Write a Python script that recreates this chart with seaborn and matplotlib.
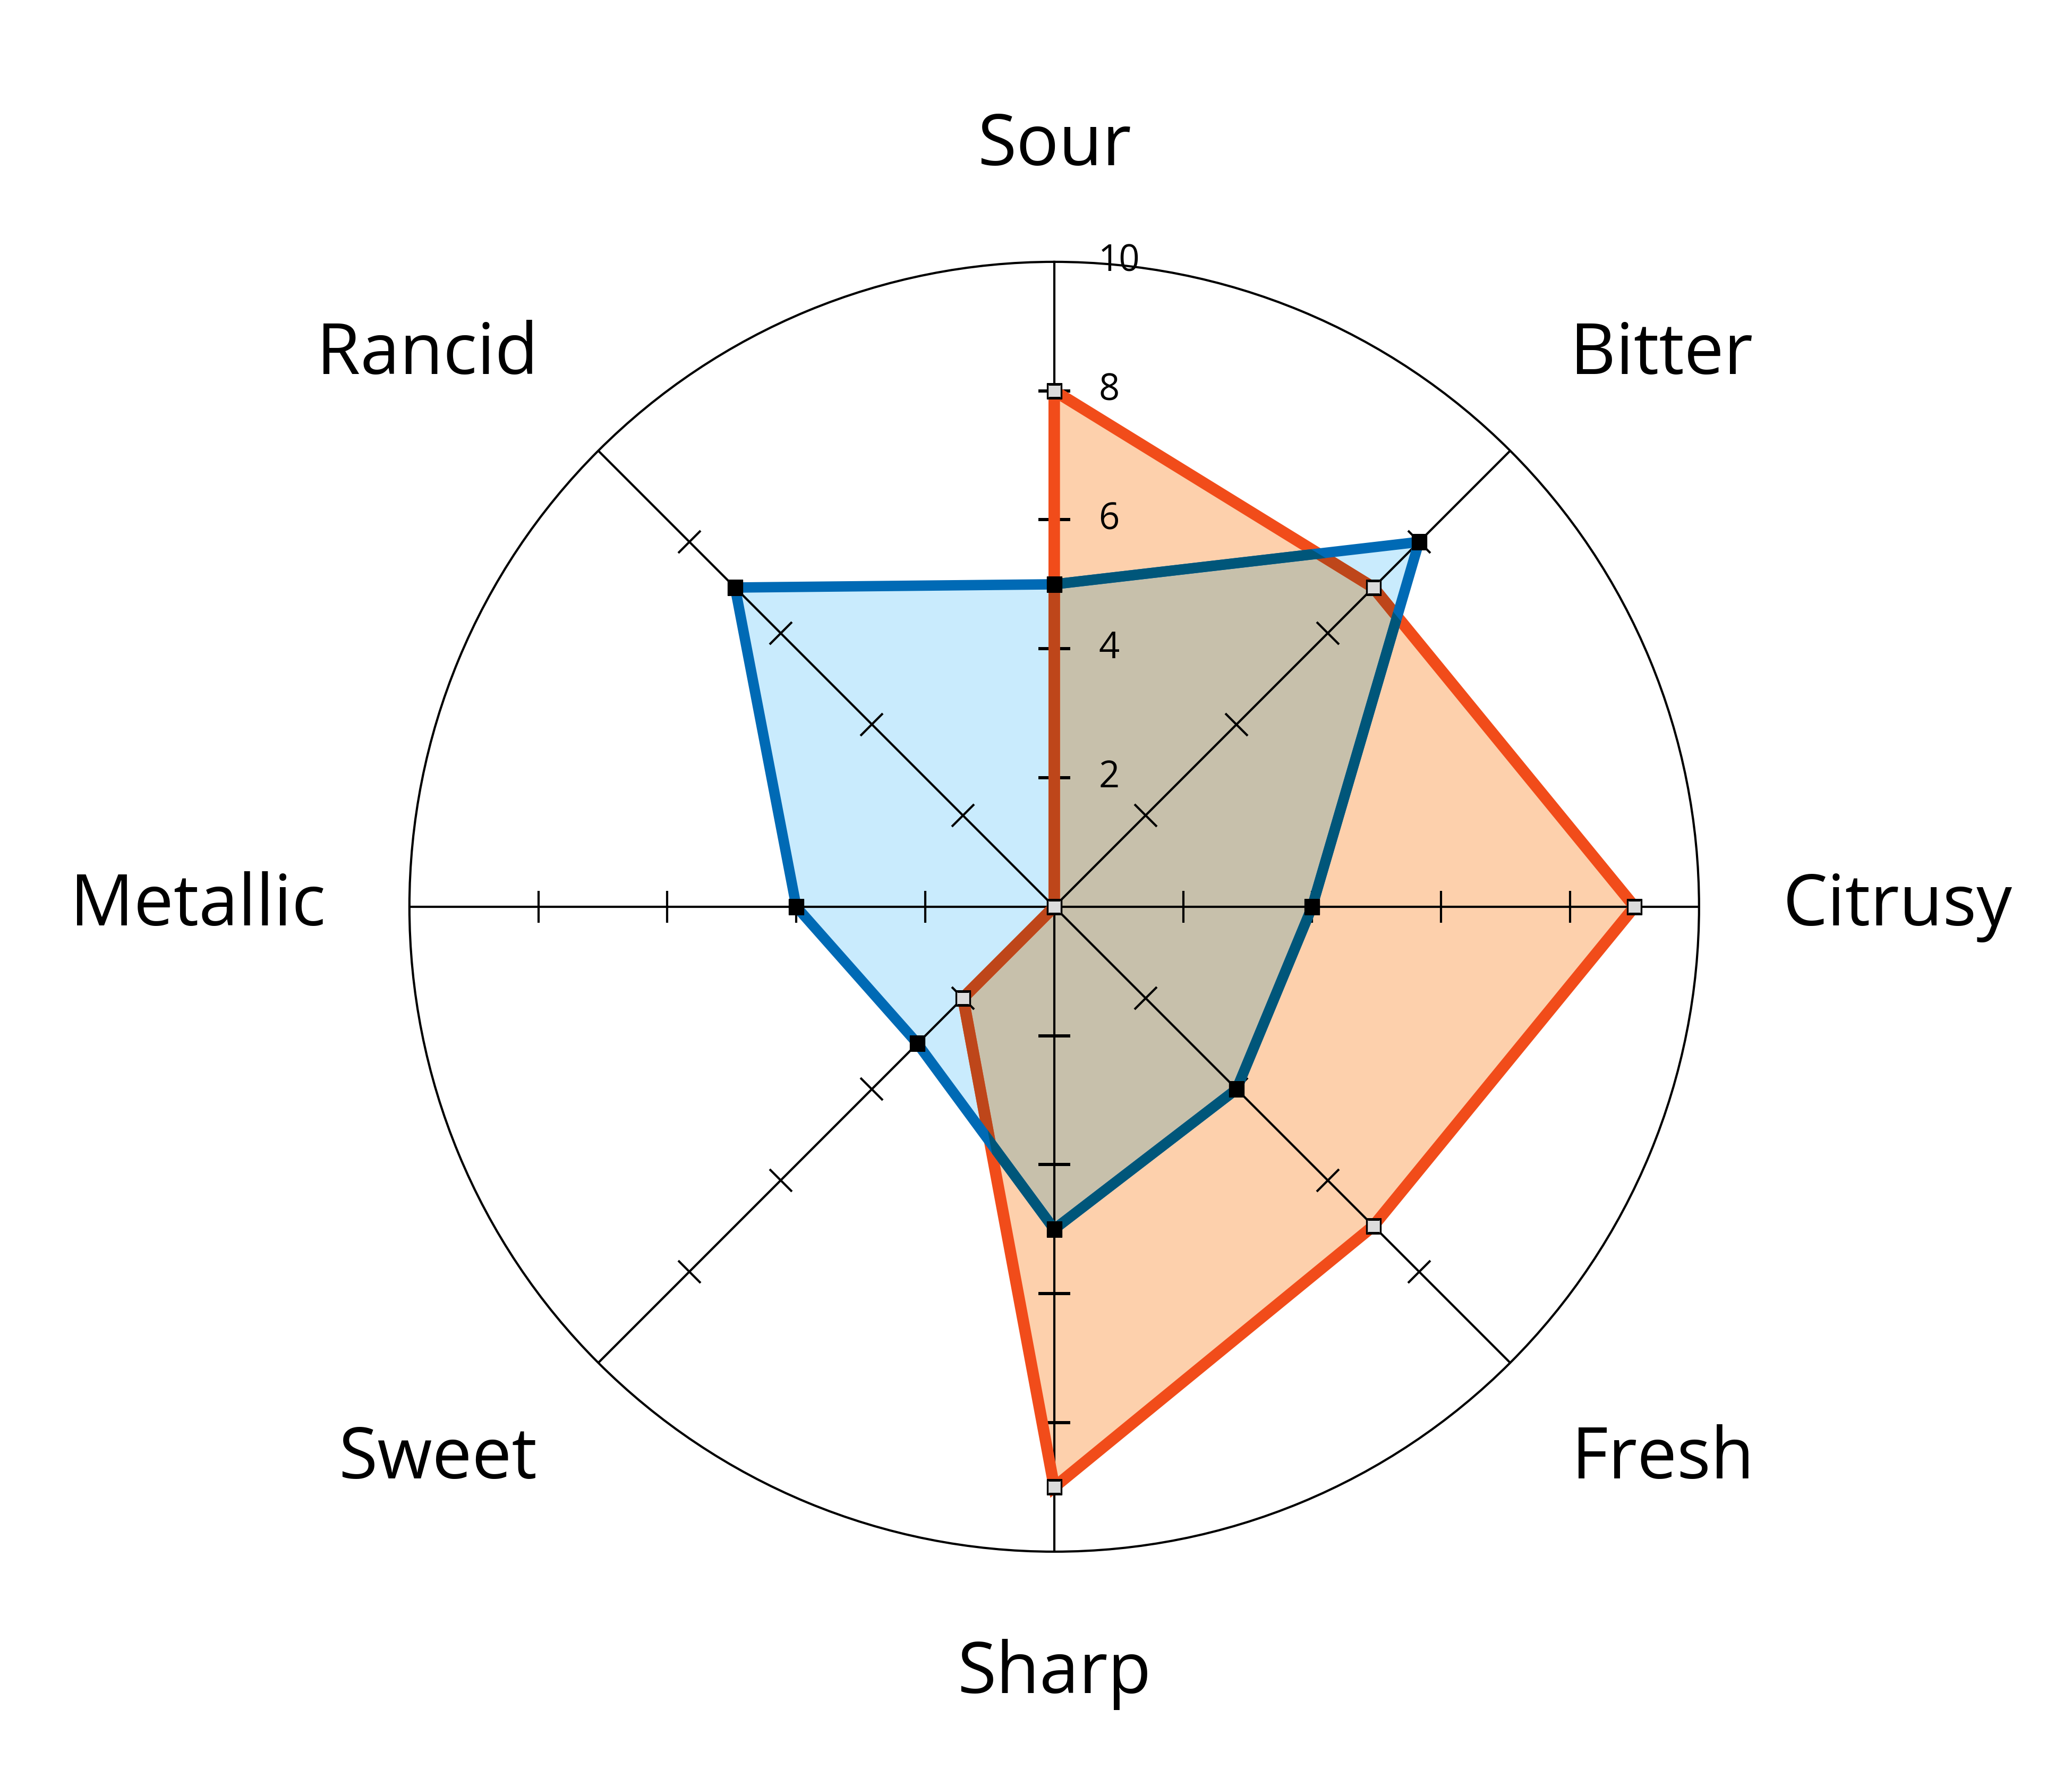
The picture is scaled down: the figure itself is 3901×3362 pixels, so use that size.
import numpy as np
import matplotlib
matplotlib.use("Agg")
import matplotlib.pyplot as plt
import matplotlib.markers as mmarkers
from matplotlib.transforms import Affine2D
import seaborn as sns

# data
categories = ['Sour', 'Bitter', 'Citrusy', 'Fresh', 'Sharp', 'Sweet', 'Metallic', 'Rancid']
orange_vals = [8, 7, 9, 7, 9, 2, 0, 0]
blue_vals = [5, 8, 4, 4, 5, 3, 4, 7]
spoke_ticks = [2, 4, 6, 8]
ring_labels = [2, 4, 6, 8, 10]

# colours
orange_line = '#f14c1a'
orange_fill = '#fdd0ac'
blue_line = '#006ab5'
blue_fill = '#c9ebfd'


def multiply(c1, c2):
    a = np.array(matplotlib.colors.to_rgb(c1))
    b = np.array(matplotlib.colors.to_rgb(c2))
    return tuple(a * b)


sns.set_theme(style='white')
plt.rcParams['font.family'] = ['Open Sans', 'DejaVu Sans']

fig = plt.figure(figsize=(3901 / 300, 3362 / 300), dpi=300)
ax = fig.add_axes([0.1976, 0.1312, 0.6224, 0.7222], projection='polar')
ax.set_theta_offset(np.pi / 2)
ax.set_theta_direction(-1)

n = len(categories)
theta = np.linspace(0, 2 * np.pi, n, endpoint=False)
theta_c = np.append(theta, 2 * np.pi)
orange_c = orange_vals + orange_vals[:1]
blue_c = blue_vals + blue_vals[:1]

# fills (overlap drawn like a multiply blend, by clipping)
o_poly = ax.fill(theta, orange_vals, color=orange_fill, lw=0, zorder=1)[0]
b_poly = ax.fill(theta, blue_vals, color=blue_fill, lw=0, zorder=1.1)[0]
ov = ax.fill(theta, blue_vals, color=multiply(orange_fill, blue_fill), lw=0, zorder=1.2)[0]
ov.set_clip_path(o_poly)

# spokes and spoke ticks
for t in theta:
    ax.plot([t, t], [0, 10], color='black', lw=1.0, zorder=2)
    deg = np.degrees(t)
    mk = mmarkers.MarkerStyle('_', transform=Affine2D().rotate_deg(-deg))
    ax.plot([t] * len(spoke_ticks), spoke_ticks, ls='none', marker=mk,
            markersize=14.5, markeredgewidth=1.0, color='black', zorder=2)

# lines
sns.lineplot(x=theta_c, y=orange_c, sort=False, estimator=None, ax=ax,
             color=orange_line, lw=5.2, zorder=3)
sns.lineplot(x=theta_c, y=orange_c, sort=False, estimator=None, ax=ax,
             color=multiply(orange_line, blue_fill), lw=5.2, zorder=3.1)
ax.lines[-1].set_clip_path(b_poly)
sns.lineplot(x=theta_c, y=blue_c, sort=False, estimator=None, ax=ax,
             color=blue_line, lw=4.7, zorder=3.2)
sns.lineplot(x=theta_c, y=blue_c, sort=False, estimator=None, ax=ax,
             color=multiply(blue_line, orange_fill), lw=4.7, zorder=3.3)
ax.lines[-1].set_clip_path(o_poly)
for ln in ax.lines:
    ln.set_solid_joinstyle('miter')

# markers
ax.plot(theta, orange_vals, ls='none', marker='s', markersize=6.2,
        markerfacecolor='#dcdcdc', markeredgecolor='black', markeredgewidth=0.8, zorder=4)
ax.plot(theta, blue_vals, ls='none', marker='s', markersize=6.4,
        markerfacecolor='black', markeredgecolor='black', markeredgewidth=0.8, zorder=4.1)

ax.set_ylim(0, 10)
ax.set_xticks([])
ax.set_yticks([])
ax.set_xlabel('')
ax.set_ylabel('')
ax.grid(False)
ax.spines['polar'].set_color('black')
ax.spines['polar'].set_linewidth(1.0)
ax.set_facecolor('white')

# radial value labels along the Sour axis
for v in ring_labels:
    ax.annotate(str(v), xy=(0, v), xytext=(20, 0), textcoords='offset points',
                ha='left', va='center', fontsize=16.5, color='black',
                annotation_clip=False, zorder=5)

# category labels
for t, lab in zip(theta, categories):
    s, c = np.sin(t), np.cos(t)
    ha = 'left' if s > 0.1 else ('right' if s < -0.1 else 'center')
    tt = t
    if c > 0.1:
        va, r = 'baseline', 11.5
        if abs(s) > 0.1:
            tt = t - np.sign(s) * np.radians(0.9)
    elif c < -0.1:
        va, r = 'top', 11.35
    else:
        va, r = 'center', 11.3
    ax.text(tt, r, lab, ha=ha, va=va, fontsize=32, color='black', clip_on=False)

fig.savefig('out.png', dpi=300, facecolor='white')
